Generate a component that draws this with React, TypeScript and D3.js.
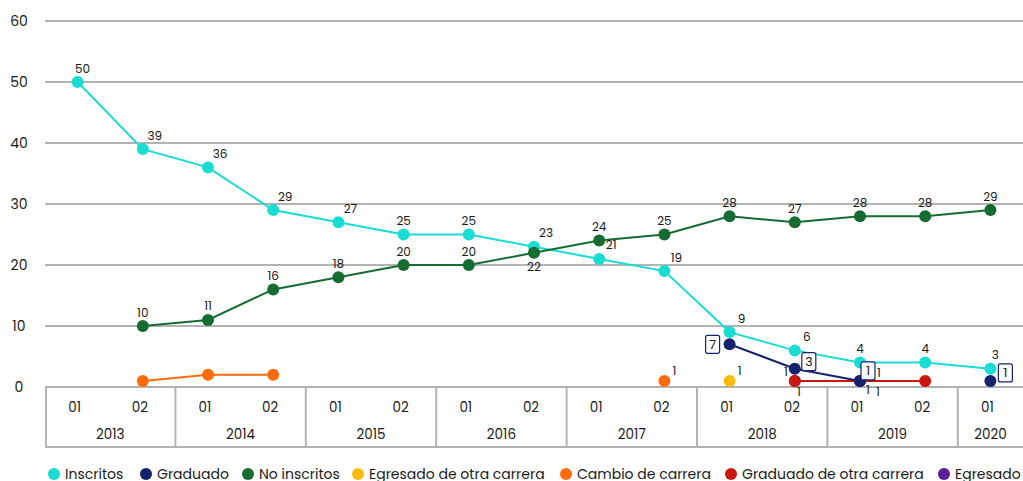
import React from "react";
import * as d3 from "d3";

const periods = ["01","02","01","02","01","02","01","02","01","02","01","02","01","02","01"];
const years = ["2013","2014","2015","2016","2017","2018","2019","2020"];
const yearSpans = [2,2,2,2,2,2,2,1];
const yTicks = [0,10,20,30,40,50,60];

type V = number | null;
const inscritos: V[] = [50,39,36,29,27,25,25,23,21,19,9,6,4,4,3];
const graduado: V[] = [null,null,null,null,null,null,null,null,null,null,7,3,1,null,1];
const noInscritos: V[] = [null,10,11,16,18,20,20,22,24,25,28,27,28,28,29];
const egresadoOtra: V[] = [null,null,null,null,null,null,null,null,null,null,1,null,null,null,null];
const cambio: V[] = [null,1,2,2,null,null,null,null,null,1,null,null,null,null,null];
const graduadoOtra: V[] = [null,null,null,null,null,null,null,null,null,null,null,1,1,1,null];
const egresado: V[] = [null,null,null,null,null,null,null,null,null,null,null,1,1,null,null];

const seriesNames = ["Inscritos","Graduado","No inscritos","Egresado de otra carrera","Cambio de carrera","Graduado de otra carrera","Egresado"];
const seriesColors = ["#19dcd2","#14236b","#146c30","#fcbc0c","#ff6a0a","#c8180f","#5e1b9c"];
const seriesValues = [inscritos,graduado,noInscritos,egresadoOtra,cambio,graduadoOtra,egresado];

const FONT = "Poppins, 'Open Sans', sans-serif";

export default function App() {
  const W = 1023, H = 481;
  const idx = periods.map((_, i) => i);
  const x = d3.scaleBand<number>().domain(idx).range([45, 1023]).padding(0);
  const bw = x.bandwidth();
  const cx = (i: number) => (x(i) as number) + bw / 2;
  const y = d3.scaleLinear().domain([0, 60]).range([387, 21]);
  const axisTop = y(0), axisBottom = 447;

  const line = d3.line<V>()
    .defined(d => d != null)
    .x((_, i) => cx(i))
    .y(d => y(d as number));

  const drawOrder = [6, 5, 4, 3, 0, 2, 1];

  type Lbl = { x: number; y: number; t: string; box?: boolean };
  const labels: Lbl[] = [];
  inscritos.forEach((v, i) => {
    if (v == null) return;
    const prev = inscritos[i - 1], next = inscritos[i + 1];
    let dx = 12;
    if (i === 0 || i === inscritos.length - 1) dx = 5;
    else if (prev === v || next === v) dx = 0;
    labels.push({ x: cx(i) + dx, y: y(v) - 14, t: String(v) });
  });
  noInscritos.forEach((v, i) => {
    if (v == null) return;
    const c = inscritos[i];
    const below = c != null && c > v && c - v < 3;
    labels.push({ x: cx(i), y: y(v) + (below ? 14 : -14), t: String(v) });
  });
  const small: [V[], number, number, number][] = [
    [egresadoOtra, 10, 10, -10],
    [cambio, 9, 10, -10],
    [graduadoOtra, 11, -9, -9],
    [graduadoOtra, 12, 19, -8],
    [egresado, 11, 4, 11],
    [egresado, 12, 8, 9],
    [graduadoOtra, 12, 18, 11],
  ];
  small.forEach(([arr, i, dx, dy]) => {
    const v = arr[i];
    if (v != null) labels.push({ x: cx(i) + dx, y: y(v) + dy, t: String(v) });
  });
  const boxOff: Record<number, [number, number]> = { 10: [-17, 0], 11: [14, -7], 12: [8, -10], 14: [15, -8] };
  graduado.forEach((v, i) => {
    if (v == null) return;
    const o = boxOff[i] || [12, -8];
    labels.push({ x: cx(i) + o[0], y: y(v) + o[1], t: String(v), box: true });
  });

  const bounds: number[] = [];
  let acc = 0;
  const yearCenters: number[] = [];
  yearSpans.forEach(s => {
    const start = x(acc) as number;
    const end = acc + s >= periods.length ? 1023 : (x(acc + s) as number);
    bounds.push(start);
    yearCenters.push((start + end) / 2);
    acc += s;
  });

  const legendX = [54, 146, 248, 358, 566, 731, 944];

  return (
    <svg width={W} height={H} style={{ position: "absolute", left: 0, top: 0, background: "#fff" }} fontFamily={FONT}>
      {yTicks.map(t => (
        <g key={t}>
          <line x1={45} x2={1023} y1={y(t)} y2={y(t)} stroke="#b3b3b3" strokeWidth={2} />
          <text x={19} y={y(t)} textAnchor="middle" dominantBaseline="central" fontSize={14} fill="#1a1a1a">{t}</text>
        </g>
      ))}
      <line x1={45} x2={1023} y1={axisBottom} y2={axisBottom} stroke="#b3b3b3" strokeWidth={2} />
      {bounds.map((b, i) => (
        <line key={i} x1={b + (i === 0 ? 1 : 0)} x2={b + (i === 0 ? 1 : 0)} y1={axisTop} y2={axisBottom} stroke="#b3b3b3" strokeWidth={2} />
      ))}
      {periods.map((p, i) => (
        <text key={i} x={cx(i) - 3} y={407} textAnchor="middle" dominantBaseline="central" fontSize={13.5} fill="#1a1a1a">{p}</text>
      ))}
      {years.map((yr, i) => (
        <text key={yr} x={yearCenters[i]} y={434} textAnchor="middle" dominantBaseline="central" fontSize={13.5} fill="#1a1a1a">{yr}</text>
      ))}
      {drawOrder.map(si => (
        <g key={si}>
          <path d={line(seriesValues[si]) || ""} fill="none" stroke={seriesColors[si]} strokeWidth={2} />
          {seriesValues[si].map((v, i) => v == null ? null : (
            <circle key={i} cx={cx(i)} cy={y(v)} r={6} fill={seriesColors[si]} />
          ))}
        </g>
      ))}
      {labels.map((l, i) => (
        <g key={i}>
          {l.box && <rect x={l.x - 7} y={l.y - 9} width={14} height={18} rx={2} fill="#fff" stroke="#14236b" strokeWidth={1.2} />}
          <text x={l.x} y={l.y} textAnchor="middle" dominantBaseline="central" fontSize={l.box ? 13 : 12} fill="#1a1a1a">{l.t}</text>
        </g>
      ))}
      {seriesNames.map((n, i) => (
        <g key={n}>
          <circle cx={legendX[i]} cy={474} r={6} fill={seriesColors[i]} />
          <text x={legendX[i] + 11} y={474} dominantBaseline="central" fontSize={14} fill="#1a1a1a">{n}</text>
        </g>
      ))}
    </svg>
  );
}
